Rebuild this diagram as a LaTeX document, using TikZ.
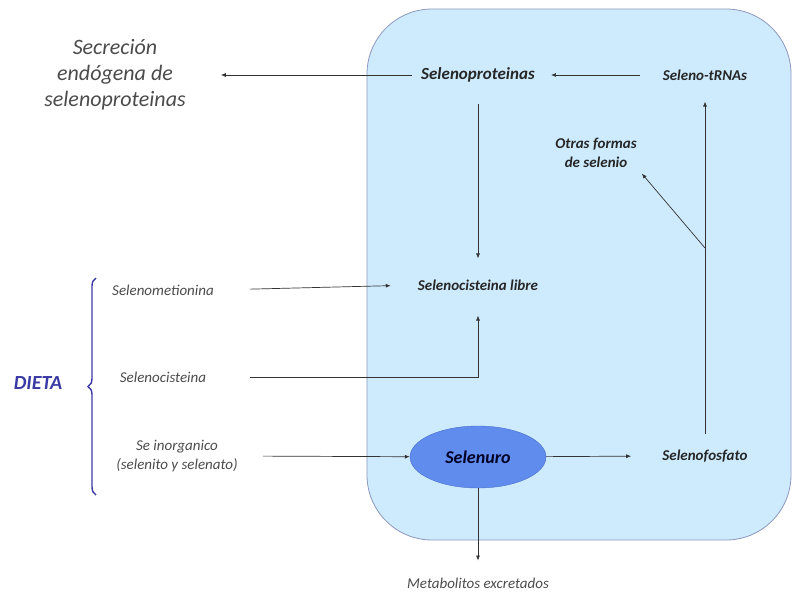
\documentclass[tikz,border=0pt]{standalone}
\usepackage{fontspec}
\setmainfont{Carlito}
\usepackage{tikz}
\usetikzlibrary{arrows.meta}
\usetikzlibrary{shapes.geometric}
\usetikzlibrary{decorations.pathreplacing}
\usepackage{xcolor}
\definecolor{ColCell}{RGB}{206,235,253}
\definecolor{ColCellLine}{RGB}{140,150,190}
\definecolor{ColSeleniuro}{RGB}{96,140,238}
\definecolor{ColSeleniuroLine}{RGB}{74,110,200}
\definecolor{ColDieta}{RGB}{58,58,165}
\definecolor{ColGris}{RGB}{75,75,75}
\tikzstyle{CellBox}=[draw=ColCellLine,fill=ColCell,rounded corners=65pt,line width=0.8pt]
\tikzstyle{Metab}=[font=\fontsize{15}{19}\selectfont\bfseries\itshape,text=black!85,align=center,inner sep=1pt]
\tikzstyle{Fuente}=[font=\fontsize{15}{19}\selectfont\itshape,text=ColGris,align=center,inner sep=1pt]
\tikzstyle{Arrow}=[-{Latex[length=5pt,width=4pt]},black!80,line width=0.7pt]

\begin{document}
\begin{tikzpicture}[x=1pt,y=-1pt]
        \useasboundingbox (0,0) rectangle (792,595);
        \draw[CellBox](367,9)rectangle(791,540);
        % cell
        \node[Metab,font=\fontsize{17}{19}\selectfont\bfseries\itshape](SelProt)at(478,75){Selenoproteinas};
        \node[Metab](SelTRNA)at(705,75){Seleno-tRNAs};
        \node[Metab](OtrasFormas)at(596,153){Otras formas\\de selenio};
        \node[Metab](SelCisLibre)at(478,285){Selenocisteina libre};
        \node[ellipse,draw=ColSeleniuroLine,fill=ColSeleniuro,minimum width=136pt,minimum height=62pt,
        font=\fontsize{18}{20}\selectfont\bfseries\itshape,text=black!85!blue](Selenuro)at(478,457){Selenuro};
        \node[Metab](SelFosf)at(705,456){Selenofosfato};
        \coordinate(Branch)at(705,248);
        % outside
        \node[Fuente,font=\fontsize{22}{26}\selectfont\itshape](SecEndo)at(115,75){Secreción\\endógena de\\selenoproteinas};
        \node[Fuente](SelMet)at(163,290){Selenometionina};
        \node[Fuente](SelCis)at(163,377){Selenocisteina};
        \node[Fuente](SeInorg)at(177,456){Se inorganico\\(selenito y selenato)};
        \node[Fuente](Metab)at(478,583){Metabolitos excretados};
        \node[font=\fontsize{20}{24}\selectfont\bfseries\itshape,text=ColDieta](Dieta)at(38,383){DIETA};
        \draw[ColDieta,line width=1.4pt,decorate,decoration={brace,amplitude=8pt}](96,495)--(96,278);
        % arrows
        \draw[Arrow,shorten <=8pt,shorten >=34pt](SelProt)--(SecEndo);
        \draw[Arrow,shorten <=22pt,shorten >=15pt](SelTRNA)--(SelProt);
        \draw[Arrow,shorten <=20pt,shorten >=20pt](SelProt)--(SelCisLibre);
        \draw[Arrow,shorten <=15pt,shorten >=20pt](SelFosf)--(SelTRNA);
        \draw[Arrow,shorten >=6pt](Branch)--(OtrasFormas.south east);
        \draw[Arrow,shorten <=35pt,shorten >=26pt](SelMet.east)--(SelCisLibre.west);
        \draw[Arrow,shorten <=43pt,shorten >=24pt](SelCis.east)-|(SelCisLibre.south);
        \draw[Arrow,shorten <=24pt](SeInorg.east)--(Selenuro);
        \draw[Arrow,shorten >=30pt](Selenuro)--(SelFosf.west);
        \draw[Arrow,shorten >=16pt](Selenuro)--(Metab.north);
    \end{tikzpicture}
\end{document}
